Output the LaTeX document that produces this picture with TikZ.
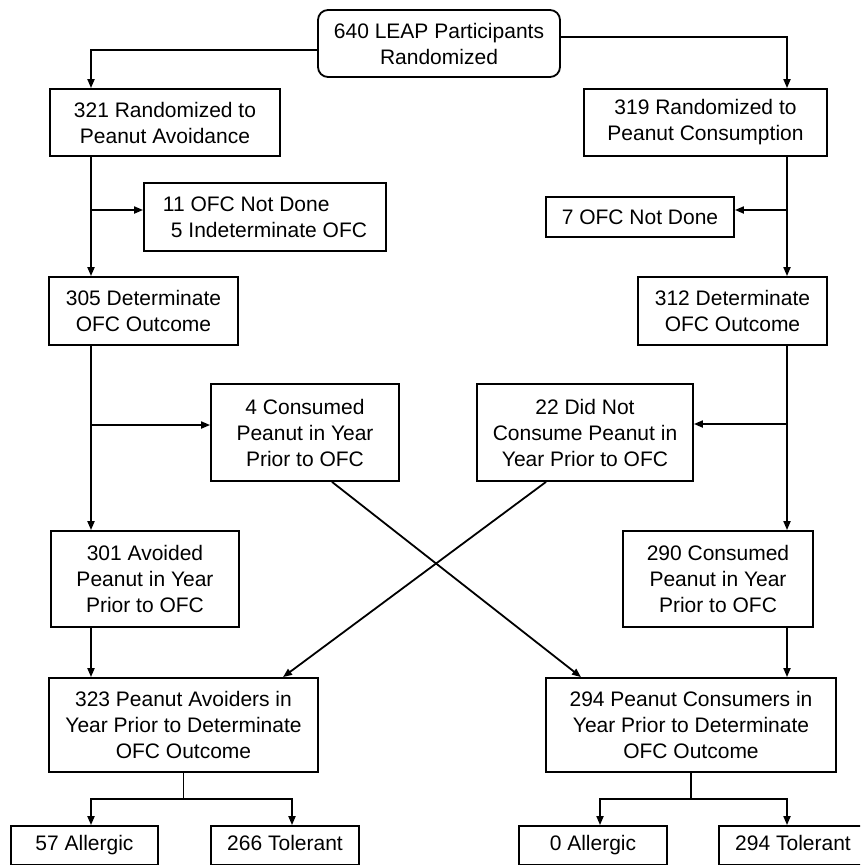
\documentclass[tikz,border=0pt]{standalone}
\usepackage{fontspec}
\setmainfont{Liberation Sans}
\usetikzlibrary{arrows.meta,calc}
\begin{document}
\begin{tikzpicture}[x=1pt,y=-1pt,
  box/.style={draw, line width=1.8pt, inner sep=0pt, align=center,
    font=\fontsize{21}{26}\selectfont},
  leaf/.style={box, minimum height=39pt, text height=15pt, text depth=4.5pt},
  arr/.style={line width=1.8pt, -{Triangle[length=9pt,width=7pt]}},
  stem/.style={line width=1.2pt}]
\useasboundingbox (0,0) rectangle (860,865);
\clip (0,0) rectangle (860,865);
\coordinate (L) at (91,0);
\coordinate (R) at (787,0);
% nodes
\node[box, rounded corners=10pt, minimum width=242pt, minimum height=67pt] (top) at (439,43.5) {640 LEAP Participants\\Randomized};
\node[box, minimum width=230pt, minimum height=67pt] (a1) at (165,122.5) {321 Randomized to\\Peanut Avoidance};
\node[box, minimum width=243pt, minimum height=67pt] (b1) at (705.5,122.5) {319 Randomized to\\Peanut Consumption};
\node[box, align=left, minimum width=242pt, minimum height=68pt] (a2) at (265,217) {11 OFC Not Done\\\hspace*{8pt}5 Indeterminate OFC};
\node[box, minimum width=188pt, minimum height=40pt] (b2) at (640,217) {7 OFC Not Done};
\node[box, minimum width=189pt, minimum height=68pt] (a3) at (143.5,311) {305 Determinate\\OFC Outcome};
\node[box, minimum width=189pt, minimum height=68pt] (b3) at (732.5,311) {312 Determinate\\OFC Outcome};
\node[box, minimum width=188pt, minimum height=97pt] (a4) at (305,432.5) {4 Consumed\\Peanut in Year\\Prior to OFC};
\node[box, minimum width=216pt, minimum height=97pt] (b4) at (585,432.5) {22 Did Not\\Consume Peanut in\\Year Prior to OFC};
\node[box, minimum width=188pt, minimum height=96pt] (a5) at (145,579) {301 Avoided\\Peanut in Year\\Prior to OFC};
\node[box, minimum width=190pt, minimum height=96pt] (b5) at (718,579) {290 Consumed\\Peanut in Year\\Prior to OFC};
\node[box, minimum width=269pt, minimum height=94pt] (a6) at (183.5,725) {323 Peanut Avoiders in\\Year Prior to Determinate\\OFC Outcome};
\node[box, minimum width=290pt, minimum height=94pt] (b6) at (691,725) {294 Peanut Consumers in\\Year Prior to Determinate\\OFC Outcome};
\node[leaf, minimum width=147pt] (a7) at (84.5,845.5) {57 Allergic};
\node[leaf, minimum width=148pt] (a8) at (285,845.5) {266 Tolerant};
\node[leaf, minimum width=148pt] (b7) at (593,845.5) {0 Allergic};
\node[leaf, minimum width=148pt] (b8) at (793,845.5) {294 Tolerant};
% connectors
\draw[arr] ([yshift=-6.5pt]top.west) -| (a1.north -| L);
\draw[arr] ([yshift=6.5pt]top.east) -| (b1.north -| R);
\draw[arr] (a1.south -| L) -- (a3.north -| L);
\path ([yshift=7pt]a2.west) coordinate (a2in);
\draw[arr] (a2in -| L) -- (a2in);
\draw[arr] (b1.south -| R) -- (b3.north -| R);
\path ([yshift=7pt]b2.east) coordinate (b2in);
\draw[arr] (b2in -| R) -- (b2in);
\draw[arr] (a3.south -| L) -- (a5.north -| L);
\path ([yshift=7.5pt]a4.west) coordinate (a4in);
\draw[arr] (a4in -| L) -- (a4in);
\draw[arr] (b3.south -| R) -- (b5.north -| R);
\path ([yshift=8.5pt]b4.east) coordinate (b4in);
\draw[arr] (b4in -| R) -- (b4in);
\draw[arr] ([xshift=27pt]a4.south) -- ([xshift=-110pt]b6.north);
\draw[arr] ([xshift=-39pt]b4.south) -- ([xshift=99.5pt]a6.north);
\draw[arr] (a5.south -| L) -- (a6.north -| L);
\draw[arr] (b5.south -| R) -- (b6.north -| R);
\coordinate (jA) at (183.5,799);
\coordinate (jB) at (691,799);
\draw[stem] (a6.south) -- (jA);
\draw[stem] (b6.south) -- (jB);
\draw[arr] (jA) -| (a7.north -| L);
\draw[arr] (jA) -| ([xshift=7pt]a8.north);
\draw[arr] (jB) -| ([xshift=7pt]b7.north);
\draw[arr] (jB) -| (b8.north -| R);
\end{tikzpicture}
\end{document}
